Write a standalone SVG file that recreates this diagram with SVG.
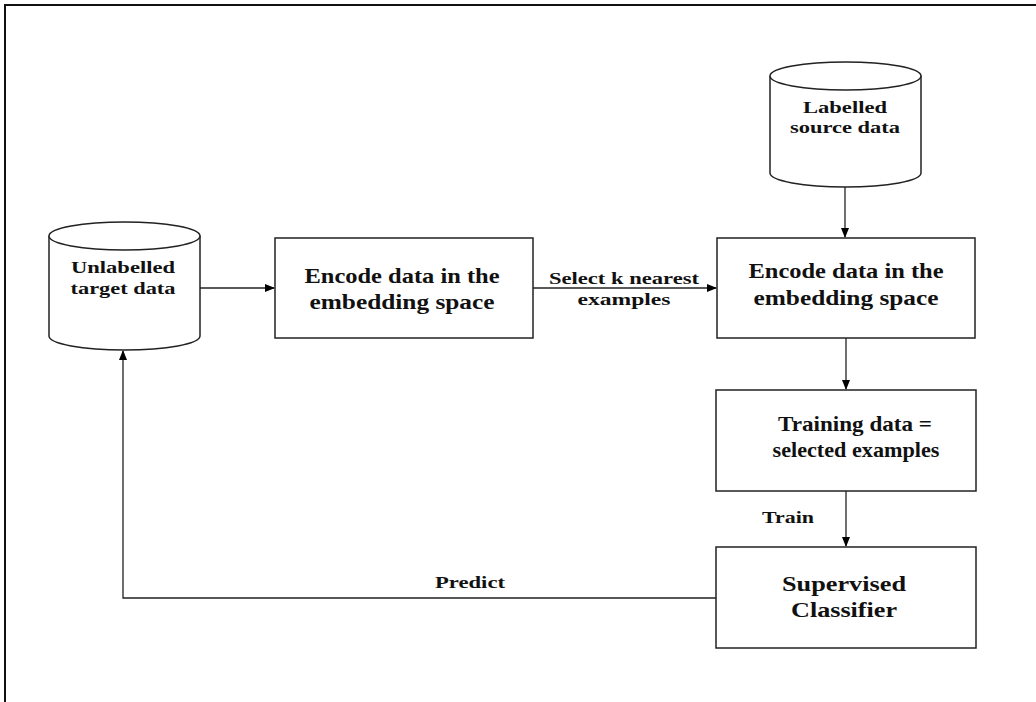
<svg xmlns="http://www.w3.org/2000/svg" width="1036" height="702" viewBox="0 0 1036 702">
<defs>
<marker id="ah" markerWidth="10" markerHeight="10" refX="9" refY="5" orient="auto" markerUnits="userSpaceOnUse">
<path d="M0,1 L10,5 L0,9 Z" fill="#000"/>
</marker>
<style>
.b{fill:#fff;stroke:#222;stroke-width:1.5}
.c{stroke:#222;stroke-width:1.3;fill:none}
.t{font-family:"Liberation Serif","Times New Roman",serif;font-weight:bold;fill:#111;text-anchor:middle}
.s{font-size:17px}
.L{font-size:21px}
</style>
</defs>
<rect width="1036" height="702" fill="#fff"/>
<path d="M5,702 V5 H1036" fill="none" stroke="#111" stroke-width="2"/>
<g id="connectors">
<line class="c" x1="200" y1="288" x2="274" y2="288" marker-end="url(#ah)"/>
<line class="c" x1="533" y1="288" x2="716" y2="288" marker-end="url(#ah)"/>
<line class="c" x1="845" y1="187" x2="845" y2="237" marker-end="url(#ah)"/>
<line class="c" x1="846" y1="338" x2="846" y2="389" marker-end="url(#ah)"/>
<line class="c" x1="846" y1="491" x2="846" y2="546" marker-end="url(#ah)"/>
<path class="c" d="M716,598 H123 V351" marker-end="url(#ah)"/>
<text class="t s" x="624" y="284" textLength="150" lengthAdjust="spacingAndGlyphs">Select k nearest</text>
<text class="t s" x="624" y="305" textLength="93" lengthAdjust="spacingAndGlyphs">examples</text>
<text class="t s" x="788" y="523" textLength="52" lengthAdjust="spacingAndGlyphs">Train</text>
<text class="t s" x="470" y="588" textLength="70" lengthAdjust="spacingAndGlyphs">Predict</text>
</g>
<g id="unlabelled">
<path class="b" d="M49,236 V336 A75.5,14 0 0 0 200,336 V236"/>
<ellipse class="b" cx="124.5" cy="236" rx="75.5" ry="14"/>
<text class="t s" x="123" y="273" textLength="104" lengthAdjust="spacingAndGlyphs">Unlabelled</text>
<text class="t s" x="123" y="294" textLength="105" lengthAdjust="spacingAndGlyphs">target data</text>
</g>
<g id="labelled">
<path class="b" d="M770,76 V173 A75.5,14 0 0 0 921,173 V76"/>
<ellipse class="b" cx="845.5" cy="76" rx="75.5" ry="14"/>
<text class="t s" x="845" y="113" textLength="84" lengthAdjust="spacingAndGlyphs">Labelled</text>
<text class="t s" x="845" y="133" textLength="110" lengthAdjust="spacingAndGlyphs">source data</text>
</g>
<g id="encode1">
<rect class="b" x="275" y="238" width="258" height="100"/>
<text class="t L" x="402" y="283" textLength="195" lengthAdjust="spacingAndGlyphs">Encode data in the</text>
<text class="t L" x="402" y="309" textLength="185" lengthAdjust="spacingAndGlyphs">embedding space</text>
</g>
<g id="encode2">
<rect class="b" x="717" y="238" width="258" height="100"/>
<text class="t L" x="846" y="278" textLength="195" lengthAdjust="spacingAndGlyphs">Encode data in the</text>
<text class="t L" x="846" y="305" textLength="185" lengthAdjust="spacingAndGlyphs">embedding space</text>
</g>
<g id="training">
<rect class="b" x="716" y="390" width="260" height="101"/>
<text class="t L" x="855" y="431" textLength="154" lengthAdjust="spacingAndGlyphs">Training data =</text>
<text class="t L" x="856" y="457" textLength="167" lengthAdjust="spacingAndGlyphs">selected examples</text>
</g>
<g id="classifier">
<rect class="b" x="716" y="547" width="260" height="101"/>
<text class="t L" x="844" y="591" textLength="124" lengthAdjust="spacingAndGlyphs">Supervised</text>
<text class="t L" x="844" y="617" textLength="106" lengthAdjust="spacingAndGlyphs">Classifier</text>
</g>
</svg>
